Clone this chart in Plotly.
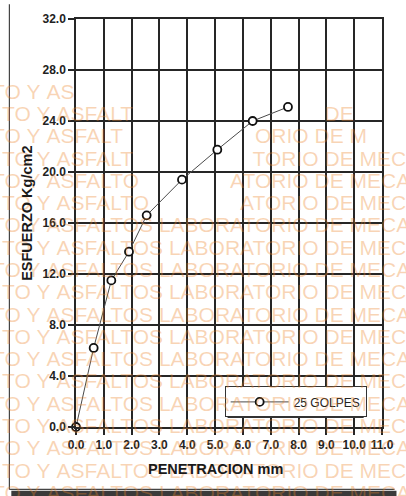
import plotly.graph_objects as go

# ---- data ----
penetracion_mm = [0.0, 0.635, 1.27, 1.905, 2.54, 3.81, 5.08, 6.35, 7.62]
esfuerzo_kgcm2 = [0.0, 6.2, 11.5, 13.75, 16.6, 19.4, 21.75, 24.0, 25.1]
series_name = "25 GOLPES"
x_title = "PENETRACION mm"
y_title = "ESFUERZO Kg/cm2"
x_ticks = list(range(0, 12))
y_ticks = list(range(0, 33, 4))
watermark_text = "TO Y ASFALTOS LABORATORIO DE MECA"

# ---- geometry (pixels) ----
W, H = 406, 496
L, R, T, B = 76, 13, 15, 69
PW, PH = W - L - R, H - T - B


def px(xp):
    return (xp - L) / PW


def py(yp):
    return (H - B - yp) / PH


FONT = "Liberation Sans, Arial, sans-serif"
INK = "#222222"
GRID = "#262626"

fig = go.Figure()
fig.add_trace(go.Scatter(
    x=penetracion_mm, y=esfuerzo_kgcm2, name=series_name,
    mode="lines+markers",
    line=dict(color="#4a4a4a", width=1),
    marker=dict(symbol="circle", size=8, color="white",
                line=dict(color="#111111", width=1.8)),
    cliponaxis=False,
))

axis_common = dict(
    showgrid=True, gridcolor=GRID, gridwidth=1.5,
    showline=True, linecolor=GRID, linewidth=1.5, mirror=True,
    ticks="outside", ticklen=6, tickwidth=1.5, tickcolor=GRID,
    tickformat=".1f", zeroline=False,
    tickfont=dict(family=FONT, size=12, color=INK, weight="bold"),
)

fig.update_layout(
    width=W, height=H,
    margin=dict(l=L, r=R, t=T, b=B, pad=0),
    paper_bgcolor="white", plot_bgcolor="white",
    xaxis=dict(range=[0, 11], tickvals=x_ticks, **axis_common),
    yaxis=dict(range=[0, 32], tickvals=y_ticks, **axis_common),
    showlegend=True,
    legend=dict(
        x=px(230), y=py(386), xanchor="left", yanchor="top",
        bgcolor="white", bordercolor="#333333", borderwidth=1,
        font=dict(family=FONT, size=12, color=INK),
        itemwidth=58, tracegroupgap=0,
    ),
)

# frame and legend shadow
shapes = [
    dict(type="rect", xref="paper", yref="paper",
         x0=px(233), x1=px(374), y0=py(392), y1=py(418),
         fillcolor="#333333", line=dict(width=0), layer="above"),
    dict(type="line", xref="paper", yref="paper",
         x0=px(7), x1=px(7), y0=py(0), y1=py(490),
         line=dict(color="#444444", width=1.2)),
    dict(type="line", xref="paper", yref="paper",
         x0=px(7), x1=px(W), y0=py(490), y1=py(490),
         line=dict(color="#444444", width=1.2)),
    dict(type="rect", xref="paper", yref="paper",
         x0=px(9), x1=px(W + 2), y0=py(491.5), y1=py(H + 2),
         fillcolor="#3a3a3a", line=dict(width=0)),
]
fig.update_layout(shapes=shapes)

annotations = []
# watermark rows (visible character ranges for the partially erased top rows)
visible = {
    0: [(0, 6)],
    1: [(0, 10), (26, 27)],
    2: [(0, 10), (21, 29)],
    3: [(0, 10), (20, 31)],
    4: [(0, 11), (19, 32)],
    5: [(0, 11), (19, 32)],
}
n = len(watermark_text)
for k in range(19):
    yrow = 88 + 22.5 * k
    x0 = -11 if k % 2 == 0 else -1
    ranges = visible.get(k, [(0, n - 1)])
    mask = [False] * n
    for a, b in ranges:
        for i in range(a, b + 1):
            mask[i] = True
    parts = []
    i = 0
    while i < n:
        j = i
        while j < n and mask[j] == mask[i]:
            j += 1
        seg = watermark_text[i:j].replace(" ", "&nbsp;")
        if mask[i]:
            parts.append(seg)
        else:
            parts.append('<span style="color:rgba(0,0,0,0)">' + seg + '</span>')
        i = j
    annotations.append(dict(
        xref="paper", yref="paper", x=px(x0 - 2), y=py(yrow),
        xanchor="left", yanchor="middle", showarrow=False,
        text="".join(parts),
        font=dict(family=FONT, size=21, color="rgba(236,132,40,0.34)"),
    ))

annotations.append(dict(
    xref="paper", yref="paper", x=px(25), y=py(211),
    xanchor="center", yanchor="middle", showarrow=False, textangle=-90,
    text=y_title, font=dict(family=FONT, size=14.5, color="#1a1a1a", weight="bold"),
))
annotations.append(dict(
    xref="paper", yref="paper", x=px(220), y=py(469),
    xanchor="center", yanchor="middle", showarrow=False,
    text=x_title, font=dict(family=FONT, size=14.5, color="#1a1a1a", weight="bold"),
))
fig.update_layout(annotations=annotations)

fig.write_html("out.html", config={"displayModeBar": False})
